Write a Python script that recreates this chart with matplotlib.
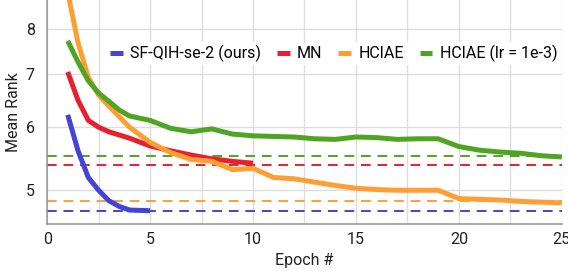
import numpy as np
import matplotlib.pyplot as plt
from matplotlib.ticker import FixedLocator, NullLocator, FormatStrFormatter

plt.rcParams['font.family'] = ['Roboto', 'DejaVu Sans']

# Mean rank per epoch (extra readings where they bend fast)
sf_epochs = [1, 1.5, 2, 2.5, 3, 3.5, 4, 5]
sf_rank = [6.22, 5.6, 5.18, 4.99, 4.84, 4.76, 4.71, 4.70]

mn_epochs = [1, 1.5, 2, 2.5, 3, 4, 5, 6, 7, 8, 9, 10]
mn_rank = [7.05, 6.49, 6.12, 6.0, 5.92, 5.81, 5.68, 5.60, 5.53, 5.47, 5.43, 5.40]

hciae_epochs = [1, 1.5, 2, 2.5, 3, 4] + list(range(5, 26))
hciae_rank = [8.9, 7.68, 6.94, 6.59, 6.38, 6.00,
              5.74, 5.57, 5.46, 5.43, 5.30, 5.32,
              5.18, 5.16, 5.11, 5.06, 5.02, 5.00, 4.99, 4.99, 4.99, 4.87,
              4.86, 4.85, 4.83, 4.82, 4.81]

hciae_lr_epochs = [1, 1.5, 2, 2.5, 3, 3.5, 4] + list(range(5, 26))
hciae_lr_rank = [7.72, 7.26, 6.87, 6.63, 6.47, 6.31, 6.20,
                 6.12, 5.98, 5.92, 5.97, 5.88, 5.85,
                 5.84, 5.83, 5.80, 5.79, 5.83, 5.82, 5.79, 5.80, 5.80, 5.67,
                 5.61, 5.58, 5.56, 5.52, 5.50]

# best mean rank reference levels (dashed)
best = {'HCIAE (lr = 1e-3)': 5.51, 'MN': 5.37, 'HCIAE': 4.83,
        'SF-QIH-se-2 (ours)': 4.69}

colors = {'SF-QIH-se-2 (ours)': '#4343d6', 'MN': '#e8202e',
          'HCIAE': '#ff9f33', 'HCIAE (lr = 1e-3)': '#4fa523'}

fig = plt.figure(figsize=(5.68, 2.71), dpi=100)
ax = fig.add_axes([0.083, 0.173, 0.906, 0.827])

for name in ['HCIAE (lr = 1e-3)', 'MN', 'HCIAE', 'SF-QIH-se-2 (ours)']:
    ax.axhline(best[name], color=colors[name], lw=1.4, dashes=(5, 3.5), zorder=2)

series = [
    ('SF-QIH-se-2 (ours)', sf_epochs, sf_rank),
    ('MN', mn_epochs, mn_rank),
    ('HCIAE', hciae_epochs, hciae_rank),
    ('HCIAE (lr = 1e-3)', hciae_lr_epochs, hciae_lr_rank),
]
for name, xs, ys in series:
    ax.plot(xs, ys, color=colors[name], lw=3.6, solid_capstyle='butt',
            solid_joinstyle='round', label=name, zorder=3)

ax.set_yscale('log')
ax.set_ylim(4.52, 8.7)
ax.set_xlim(0, 25)
ax.yaxis.set_major_locator(FixedLocator([5, 6, 7, 8]))
ax.yaxis.set_minor_locator(NullLocator())
ax.yaxis.set_major_formatter(FormatStrFormatter('%d'))
ax.set_xticks([0, 5, 10, 15, 20, 25])
ax.set_xticks([2.5, 7.5, 12.5, 17.5, 22.5], minor=True)

ax.grid(True, which='both', color='#dddddd', lw=1.0, zorder=0)
ax.tick_params(length=0, labelsize=11.5, colors='#222222')
ax.tick_params(axis='x', pad=6)
ax.tick_params(axis='y', pad=9)
ax.tick_params(which='minor', length=0)
for s in ['top', 'right']:
    ax.spines[s].set_visible(False)
ax.spines['left'].set_color('#999999')
ax.spines['bottom'].set_color('#999999')
ax.spines['left'].set_linewidth(1.2)
ax.spines['bottom'].set_linewidth(1.2)

ax.set_xlabel('Epoch #', fontsize=11.5, color='#222222', labelpad=4)
ax.set_ylabel('Mean Rank', fontsize=11.5, color='#222222', labelpad=3)

leg = ax.legend(loc='upper left', bbox_to_anchor=(0.1, 0.85), ncol=4,
                frameon=True, fontsize=11.5, handlelength=0.8,
                handletextpad=0.45, columnspacing=1.0, borderpad=0.2)
leg.get_frame().set_edgecolor('none')
leg.get_frame().set_facecolor('white')
leg.get_frame().set_alpha(1)
for h in leg.get_lines():
    h.set_linewidth(3.6)

fig.savefig('out.png', dpi=100)
